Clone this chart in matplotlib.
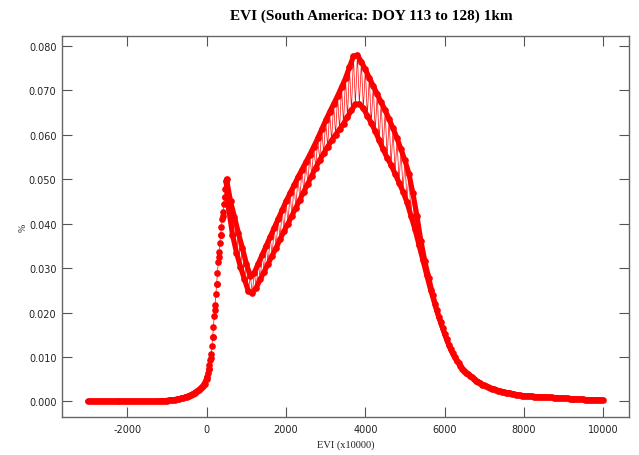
import numpy as np
import matplotlib
matplotlib.use("Agg")
import matplotlib.pyplot as plt

# upper envelope, sampled every 100 from -3000 to 10000
x_up = np.arange(-3000, 10001, 100)
y_up = [
    0.0000, 0.0000, 0.0000, 0.0000, 0.0000, 0.0000, 0.0000, 0.0000, 0.0000, 0.0000,   # -3000..-2100
    0.0000, 0.0000, 0.0000, 0.0000, 0.0000, 0.0000, 0.0000, 0.0000, 0.0001, 0.0001,   # -2000..-1100
    0.0002, 0.0003, 0.0004, 0.0006, 0.0008, 0.0011, 0.0015, 0.0020, 0.0026, 0.0034,   # -1000..-100
    0.0050, 0.0097, 0.0205, 0.0325, 0.0418, 0.0500, 0.0450, 0.0415, 0.0378, 0.0345,   # 0..900
    0.0310, 0.0282, 0.0290, 0.0310, 0.0330, 0.0350, 0.0370, 0.0390, 0.0410, 0.0430,   # 1000..1900
    0.0450, 0.0468, 0.0486, 0.0504, 0.0521, 0.0538, 0.0555, 0.0573, 0.0592, 0.0612,   # 2000..2900
    0.0632, 0.0651, 0.0669, 0.0687, 0.0707, 0.0727, 0.0752, 0.0776, 0.0779, 0.0764,   # 3000..3900
    0.0747, 0.0728, 0.0710, 0.0691, 0.0673, 0.0655, 0.0635, 0.0614, 0.0592, 0.0567,   # 4000..4900
    0.0542, 0.0512, 0.0468, 0.0418, 0.0362, 0.0316, 0.0277, 0.0240, 0.0205, 0.0178,   # 5000..5900
    0.0152, 0.0128, 0.0108, 0.0092, 0.0080, 0.0069, 0.0061, 0.0054, 0.0047, 0.0041,   # 6000..6900
    0.0036, 0.0032, 0.0029, 0.0026, 0.0023, 0.0021, 0.0019, 0.0017, 0.0015, 0.0014,   # 7000..7900
    0.0013, 0.0012, 0.0012, 0.0011, 0.0011, 0.0010, 0.0009, 0.0009, 0.0008, 0.0008,   # 8000..8900
    0.0007, 0.0007, 0.0006, 0.0006, 0.0005, 0.0005, 0.0004, 0.0004, 0.0004, 0.0003,   # 9000..9900
    0.0003,                                                                           # 10000
]

# lower envelope, sampled every 100 from -2950 to 9950
x_lo = np.arange(-2950, 10000, 100)
y_lo = [
    0.0000, 0.0000, 0.0000, 0.0000, 0.0000, 0.0000, 0.0000, 0.0000, 0.0000, 0.0000,   # -2950..-2050
    0.0000, 0.0000, 0.0000, 0.0000, 0.0000, 0.0000, 0.0000, 0.0000, 0.0001, 0.0002,   # -1950..-1050
    0.0003, 0.0004, 0.0005, 0.0007, 0.0009, 0.0013, 0.0017, 0.0023, 0.0030, 0.0040,   # -950..-50
    0.0074, 0.0145, 0.0265, 0.0375, 0.0460, 0.0435, 0.0375, 0.0335, 0.0303, 0.0275,   # 50..950
    0.0248, 0.0244, 0.0256, 0.0275, 0.0292, 0.0310, 0.0328, 0.0345, 0.0365, 0.0383,   # 1050..1950
    0.0400, 0.0418, 0.0436, 0.0454, 0.0472, 0.0490, 0.0508, 0.0526, 0.0543, 0.0558,   # 2050..2950
    0.0573, 0.0587, 0.0600, 0.0612, 0.0625, 0.0640, 0.0655, 0.0668, 0.0669, 0.0659,   # 3050..3950
    0.0643, 0.0626, 0.0608, 0.0587, 0.0567, 0.0548, 0.0532, 0.0512, 0.0492, 0.0472,   # 4050..4950
    0.0448, 0.0418, 0.0388, 0.0353, 0.0318, 0.0284, 0.0250, 0.0220, 0.0191, 0.0165,   # 5050..5950
    0.0140, 0.0118, 0.0100, 0.0086, 0.0074, 0.0065, 0.0057, 0.0050, 0.0044, 0.0038,   # 6050..6950
    0.0034, 0.0030, 0.0027, 0.0024, 0.0022, 0.0020, 0.0018, 0.0016, 0.0014, 0.0013,   # 7050..7950
    0.0012, 0.0012, 0.0011, 0.0011, 0.0010, 0.0010, 0.0009, 0.0008, 0.0008, 0.0007,   # 8050..8950
    0.0007, 0.0006, 0.0006, 0.0005, 0.0005, 0.0004, 0.0004, 0.0004, 0.0003, 0.0003,   # 9050..9950
]

# extra samples on the steep rise before the first peak
x_rise = np.arange(10, 500, 20)
y_rise = [
    0.0056, 0.0065, 0.0074, 0.0083, 0.0093, 0.0106, 0.0125, 0.0145, 0.0168, 0.0193,
    0.0217, 0.0241, 0.0265, 0.0289, 0.0313, 0.0336, 0.0357, 0.0375, 0.0393, 0.0410,
    0.0426, 0.0443, 0.0460, 0.0478, 0.0495,
]

x_ticks = [-2000, 0, 2000, 4000, 6000, 8000, 10000]
y_ticks = [0.000, 0.010, 0.020, 0.030, 0.040, 0.050, 0.060, 0.070, 0.080]

RED = "#ff0000"


def merged(*pairs):
    xs = np.concatenate([np.asarray(p[0], float) for p in pairs])
    ys = np.concatenate([np.asarray(p[1], float) for p in pairs])
    o = np.argsort(xs, kind="stable")
    return xs[o], ys[o]


xs, ys = merged((x_up, y_up), (x_lo, y_lo), (x_rise, y_rise))
xu, yu = merged((x_up, y_up), (x_rise, y_rise))
xl, yl = merged((x_lo, y_lo), (x_rise, y_rise))
# leave the steep rise as separate dots, like the original
yu = np.where((xu > 20) & (xu < 480), np.nan, yu)
yl = np.where((xl > 20) & (xl < 480), np.nan, yl)

fig = plt.figure(figsize=(6.39, 4.56), dpi=100)
ax = fig.add_axes([62/639, 1 - 418/456, (629 - 62)/639, (418 - 37)/456])

# outer envelopes drawn thick so the dots merge into a solid edge
ax.plot(xu, yu, color=RED, lw=3.7, solid_capstyle="round", solid_joinstyle="round")
ax.plot(xl, yl, color=RED, lw=3.7, solid_capstyle="round", solid_joinstyle="round")
# thin zig-zag between the alternating bins, with dots
ax.plot(xs, ys, color=RED, lw=0.5, marker="o", ms=4.8, mfc=RED, mec=RED, mew=0)

ax.set_xlim(-3650, 10650)
ax.set_ylim(-0.0035, 0.0822)
ax.set_xticks(x_ticks)
ax.set_xticklabels([str(v) for v in x_ticks])
ax.set_yticks(y_ticks)
ax.set_yticklabels(["%.3f" % v for v in y_ticks])

ax.tick_params(direction="in", length=7, width=0.8, color="#555555",
               top=True, right=True, labelsize=7, labelcolor="#222222")
ax.tick_params(axis="x", pad=5)
ax.tick_params(axis="y", pad=4)
for s in ax.spines.values():
    s.set_color("#666666")
    s.set_linewidth(1.0)

fig.text(371/639, 1 - 16/456, "EVI (South America: DOY 113 to 128) 1km",
         ha="center", va="center", fontsize=11, fontweight="bold",
         family="Liberation Serif")
fig.text(346/639, 1 - 445/456, "EVI (x10000)", ha="center", va="center",
         fontsize=7.5, family="Liberation Serif", color="#222222")
fig.text(23/639, 1 - 228/456, "%", ha="center", va="center", rotation=90,
         fontsize=7, family="Liberation Serif", color="#222222")

fig.savefig("out.png", dpi=100)
